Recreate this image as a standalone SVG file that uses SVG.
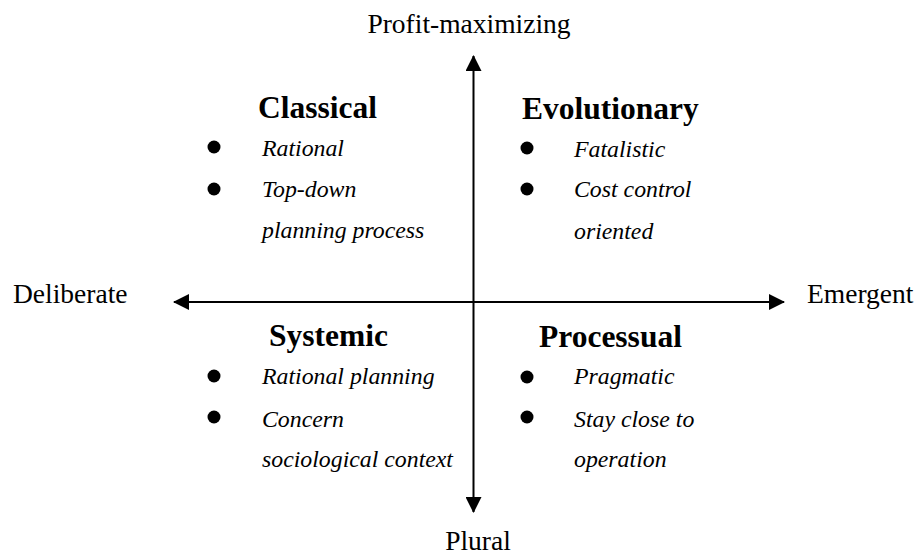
<svg xmlns="http://www.w3.org/2000/svg" width="917" height="556" viewBox="0 0 917 556">
<style>
.axis{font-family:"Liberation Serif","Times New Roman",serif;font-size:27.5px;fill:#000}
.head{font-family:"Liberation Serif","Times New Roman",serif;font-size:31.5px;font-weight:bold;fill:#000}
.item{font-family:"Liberation Serif","Times New Roman",serif;font-size:23.8px;font-style:italic;fill:#000}
.bul{fill:#000}
.ax{stroke:#000;stroke-width:2;fill:none}
</style>
<defs>
<marker id="arr" markerUnits="userSpaceOnUse" markerWidth="16" markerHeight="16" refX="15" refY="8" orient="auto-start-reverse">
<path d="M0,0 L16,8 L0,16 Z" fill="#000"/>
</marker>
</defs>
<rect width="917" height="556" fill="#fff"/>
<g id="connectors">
<path class="ax" d="M473.5,56 L473.5,512" marker-start="url(#arr)" marker-end="url(#arr)"/>
<path class="ax" d="M174,302 L784,302" marker-start="url(#arr)" marker-end="url(#arr)"/>
</g>
<g id="axis-labels">
<text class="axis" x="469" y="33" text-anchor="middle">Profit-maximizing</text>
<text class="axis" x="478" y="550" text-anchor="middle">Plural</text>
<text class="axis" x="13" y="303">Deliberate</text>
<text class="axis" x="807" y="303">Emergent</text>
</g>
<g id="classical">
<text class="head" x="258" y="118">Classical</text>
<circle class="bul" cx="214" cy="147" r="6.5"/>
<circle class="bul" cx="214" cy="189" r="6.5"/>
<text class="item" x="262" y="156">Rational</text>
<text class="item" x="262" y="197">Top-down</text>
<text class="item" x="262" y="238">planning process</text>
</g>
<g id="evolutionary">
<text class="head" x="522" y="119">Evolutionary</text>
<circle class="bul" cx="527" cy="148" r="6.5"/>
<circle class="bul" cx="527" cy="189" r="6.5"/>
<text class="item" x="574" y="157">Fatalistic</text>
<text class="item" x="574" y="197">Cost control</text>
<text class="item" x="574" y="239">oriented</text>
</g>
<g id="systemic">
<text class="head" x="269" y="346">Systemic</text>
<circle class="bul" cx="214" cy="376" r="6.5"/>
<circle class="bul" cx="214" cy="417" r="6.5"/>
<text class="item" x="262" y="384">Rational planning</text>
<text class="item" x="262" y="427">Concern</text>
<text class="item" x="262" y="467">sociological context</text>
</g>
<g id="processual">
<text class="head" x="539" y="347">Processual</text>
<circle class="bul" cx="527" cy="377" r="6.5"/>
<circle class="bul" cx="527" cy="417" r="6.5"/>
<text class="item" x="574" y="384">Pragmatic</text>
<text class="item" x="574" y="427">Stay close to</text>
<text class="item" x="574" y="467">operation</text>
</g>
</svg>
